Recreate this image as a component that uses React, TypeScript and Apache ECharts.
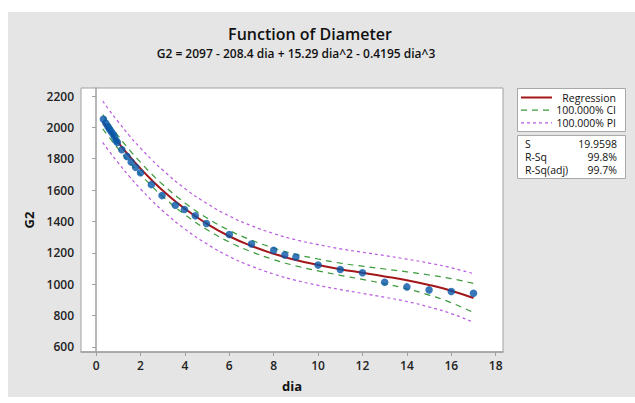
import React, { useEffect, useRef } from "react";
import * as echarts from "echarts";

const obsDia = [0.33, 0.44, 0.53, 0.6, 0.68, 0.76, 0.83, 0.9, 0.96, 1.16, 1.39, 1.58, 1.78, 2.0, 2.49, 2.97, 3.57, 3.98, 4.47, 4.97, 6, 7, 8, 8.5, 9, 10, 11, 12, 13, 14, 15, 16, 17];
const obsG2 = [2052, 2027, 2006, 1989, 1974, 1957, 1938, 1914, 1903, 1857, 1815, 1779, 1745, 1711, 1635, 1565, 1503, 1476, 1436, 1387, 1317, 1257, 1217, 1187, 1173, 1122, 1094, 1073, 1013, 983, 964, 954, 943];

const fitDia = [0.3, 0.6, 1, 1.5, 2, 2.5, 3, 4, 5, 6, 7, 8, 9, 10, 11, 12, 13, 14, 15, 16, 17];
const fitG2 = [2036, 1977, 1904, 1817, 1738, 1665, 1598, 1481, 1385, 1306, 1244, 1194, 1154, 1123, 1096, 1073, 1050, 1025, 995, 959, 912];
const ciUpper = [2081, 2020, 1945, 1857, 1777, 1703, 1636, 1518, 1422, 1343, 1281, 1231, 1191, 1161, 1135, 1115, 1097, 1079, 1059, 1036, 1005];
const ciLower = [1991, 1934, 1863, 1777, 1699, 1627, 1560, 1444, 1348, 1269, 1207, 1157, 1117, 1085, 1057, 1031, 1003, 971, 931, 882, 819];
const piUpper = [2168, 2108, 2035, 1947, 1868, 1795, 1728, 1610, 1514, 1435, 1373, 1323, 1283, 1253, 1226, 1204, 1183, 1160, 1135, 1105, 1067];
const piLower = [1904, 1846, 1773, 1687, 1608, 1535, 1468, 1352, 1256, 1177, 1115, 1065, 1025, 993, 966, 942, 917, 890, 855, 813, 757];

const xTicks = [0, 2, 4, 6, 8, 10, 12, 14, 16, 18];
const yTicks = [600, 800, 1000, 1200, 1400, 1600, 1800, 2000, 2200];

const statNames = ["S", "R-Sq", "R-Sq(adj)"];
const statValues = ["19.9598", "99.8%", "99.7%"];
const legendNames = ["Regression", "100.000% CI", "100.000% PI"];

const FONT = "'Open Sans', 'Noto Sans', sans-serif";
const RED = "#a3171b";
const GREEN = "#3a9a3a";
const PURPLE = "#b85ae0";
const BLUE = "#0656a8";

const pairs = (xs: number[], ys: number[]) => xs.map((x, i) => [x, ys[i]]);

export default function App() {
  const ref = useRef<HTMLDivElement>(null);
  useEffect(() => {
    document.body.style.margin = "0";
    const chart = echarts.init(ref.current!, null, { renderer: "svg" });
    const lineSeries = (name: string, ys: number[], color: string, width: number, type: any) => ({
      name,
      type: "line",
      data: pairs(fitDia, ys),
      smooth: true,
      showSymbol: false,
      symbol: "none",
      lineStyle: { color, width, type },
      z: 2,
    });
    const legendRows = [
      { color: RED, width: 2, dash: null },
      { color: GREEN, width: 1.2, dash: [6, 5] },
      { color: PURPLE, width: 1.2, dash: [3, 3] },
    ];
    const graphic: any[] = [
      { type: "rect", shape: { x: 8, y: 12, width: 627, height: 385 }, style: { fill: "#e5e5e5" }, z: -10 },
      { type: "text", x: 310, y: 34, style: { text: "Function of Diameter", font: `600 16px ${FONT}`, fill: "#111", align: "center", verticalAlign: "middle" } },
      { type: "text", x: 296, y: 53, style: { text: "G2 = 2097 - 208.4 dia + 15.29 dia^2 - 0.4195 dia^3", font: `600 12px ${FONT}`, fill: "#111", align: "center", verticalAlign: "middle" } },
      { type: "rect", shape: { x: 517.5, y: 88.5, width: 108, height: 43 }, style: { fill: "#fff", stroke: "#a8a8a8", lineWidth: 1 } },
      { type: "rect", shape: { x: 517.5, y: 135.5, width: 108, height: 43 }, style: { fill: "#fff", stroke: "#a8a8a8", lineWidth: 1 } },
    ];
    legendNames.forEach((n, i) => {
      const y = 97.5 + i * 12.7;
      const r = legendRows[i];
      graphic.push({ type: "line", shape: { x1: 521, y1: y, x2: 552, y2: y }, style: { stroke: r.color, lineWidth: r.width, lineDash: r.dash } });
      graphic.push({ type: "text", x: 616, y, style: { text: n, font: `500 10.5px ${FONT}`, lineHeight: 12, fill: "#111", align: "right", verticalAlign: "middle" } });
    });
    statNames.forEach((n, i) => {
      const y = 144 + i * 12.8;
      graphic.push({ type: "text", x: 525, y, style: { text: n, font: `500 10.5px ${FONT}`, lineHeight: 12, fill: "#111", align: "left", verticalAlign: "middle" } });
      graphic.push({ type: "text", x: 617, y, style: { text: statValues[i], font: `500 10.5px ${FONT}`, lineHeight: 12, fill: "#111", align: "right", verticalAlign: "middle" } });
    });
    chart.setOption({
      animation: false,
      backgroundColor: "#ffffff",
      grid: { left: 81, top: 88, width: 422, height: 264, show: true, backgroundColor: "#fff", borderColor: "#a0a0a0", borderWidth: 1, containLabel: false },
      xAxis: {
        type: "value",
        min: -0.68,
        max: 18.33,
        name: "dia",
        nameLocation: "middle",
        nameGap: 27,
        nameTextStyle: { fontFamily: FONT, fontSize: 13, fontWeight: 700, color: "#111" },
        splitLine: { show: false },
        axisLine: { show: true, lineStyle: { color: "#a0a0a0", width: 1.5 } },
        axisTick: { show: true, inside: false, length: 4, lineStyle: { color: "#a0a0a0" }, customValues: xTicks },
        axisLabel: { customValues: xTicks, formatter: (v: number) => String(v), fontFamily: FONT, fontSize: 12, fontWeight: 600, color: "#222", margin: 7 },
      },
      yAxis: {
        type: "value",
        min: 568,
        max: 2251,
        name: "G2",
        nameLocation: "middle",
        nameGap: 46,
        nameTextStyle: { fontFamily: FONT, fontSize: 13, fontWeight: 700, color: "#111" },
        splitLine: { show: false },
        axisLine: { show: true, lineStyle: { color: "#a0a0a0", width: 1.5 } },
        axisTick: { show: true, inside: false, length: 4, lineStyle: { color: "#a0a0a0" }, customValues: yTicks },
        axisLabel: { customValues: yTicks, formatter: (v: number) => String(v), fontFamily: FONT, fontSize: 12, fontWeight: 600, color: "#222", margin: 7 },
      },
      graphic,
      series: [
        lineSeries("PI upper", piUpper, PURPLE, 1.2, [3, 3]),
        lineSeries("PI lower", piLower, PURPLE, 1.2, [3, 3]),
        lineSeries("CI upper", ciUpper, GREEN, 1.2, [6, 5]),
        lineSeries("CI lower", ciLower, GREEN, 1.2, [6, 5]),
        { ...lineSeries("Regression", fitG2, RED, 2, "solid"), z: 3 },
        {
          name: "G2",
          type: "scatter",
          data: pairs(obsDia, obsG2),
          symbol: "circle",
          symbolSize: 7.5,
          itemStyle: { color: BLUE },
          z: 4,
        },
      ],
    });
    return () => chart.dispose();
  }, []);
  return <div ref={ref} style={{ width: 635, height: 403 }} />;
}
